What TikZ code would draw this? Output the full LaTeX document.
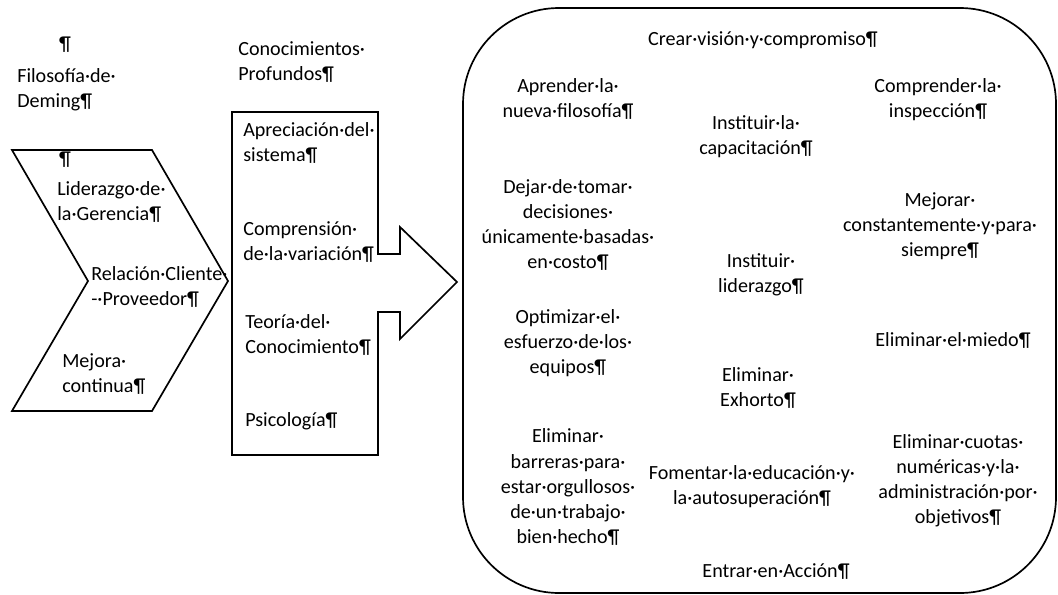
\documentclass[tikz,border=0pt]{standalone}
\usepackage{fontspec}
\setmainfont{Carlito}
\def\leftnode{\node[align=left,anchor=west]}
\def\midnode{\node[align=center]}
\def\drawshape{\draw[color=black, line width=1.2pt, line join=miter]}

\begin{document}
\begin{tikzpicture}[x=0.025cm,y=-0.025cm,inner sep=0pt,font=\fontsize{14.3}{17.8}\selectfont]
\useasboundingbox (0,0) rectangle (1058,594);
% chevron, box with arrow, rounded frame
\drawshape (12,150) -- (152,150) -- (228,281) -- (152,411) -- (12,411) -- (88,281) -- cycle;
\drawshape (232,112) -- (378,112) -- (378,254) -- (400,254) -- (400,227) -- (457,282)
  -- (400,339) -- (400,312) -- (378,312) -- (378,455) -- (232,455) -- cycle;
\drawshape[rounded corners=2.4cm] (463,8) rectangle (1056,593);
% left column
\midnode (par) at (65,45) {¶};
\leftnode (filo) at (17,90) {Filosofía·de·\\Deming¶};
\midnode (parchev) at (65,160) {¶};
\leftnode (lider) at (57,202) {Liderazgo·de·\\la·Gerencia¶};
\leftnode (relac) at (91,287) {Relación·Cliente·\\-·Proveedor¶};
\leftnode (mejora) at (62,374) {Mejora·\\continua¶};
% middle column
\leftnode (cono) at (238,62) {Conocimientos·\\Profundos¶};
\leftnode (aprec) at (243,143) {Apreciación·del·\\sistema¶};
\leftnode (compr) at (243,242) {Comprensión·\\de·la·variación¶};
\leftnode (teoria) at (245,335) {Teoría·del·\\Conocimiento¶};
\leftnode (psico) at (245,421) {Psicología¶};
% the fourteen points
\midnode (crear) at (763,40) {Crear·visión·y·compromiso¶};
\midnode (aprender) at (568,99) {Aprender·la·\\nueva·filosofía¶};
\midnode (capac) at (756,137) {Instituir·la·\\capacitación¶};
\midnode (inspec) at (938,100) {Comprender·la·\\inspección¶};
\midnode (dejar) at (568,225) {Dejar·de·tomar·\\decisiones·\\únicamente·basadas·\\en·costo¶};
\midnode (mejorar) at (940,226) {Mejorar·\\constantemente·y·para·\\siempre¶};
\midnode (lidzgo) at (761,275) {Instituir·\\liderazgo¶};
\midnode (optim) at (568,343) {Optimizar·el·\\esfuerzo·de·los·\\equipos¶};
\midnode (miedo) at (953,340) {Eliminar·el·miedo¶};
\midnode (exhorto) at (758,388) {Eliminar·\\Exhorto¶};
\midnode (cuotas) at (958,481) {Eliminar·cuotas·\\numéricas·y·la·\\administración·por·\\objetivos¶};
\midnode (barreras) at (568,487) {Eliminar·\\barreras·para·\\estar·orgullosos·\\de·un·trabajo·\\bien·hecho¶};
\midnode (fomentar) at (752,487) {Fomentar·la·educación·y·\\la·autosuperación¶};
\midnode (accion) at (776,572) {Entrar·en·Acción¶};
\end{tikzpicture}
\end{document}
